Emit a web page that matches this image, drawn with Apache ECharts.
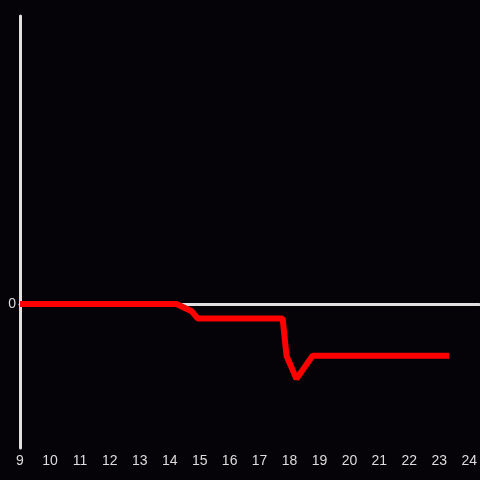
<!DOCTYPE html>
<html>
<head>
<meta charset="utf-8">
<script src="https://cdn.jsdelivr.net/npm/echarts@6/dist/echarts.min.js"></script>
<style>
  html, body { margin: 0; padding: 0; background: #050307; }
  #chart { width: 480px; height: 480px; }
</style>
</head>
<body>
<div id="chart"></div>
<script>
// hours of the day and the value
const hours = [9, 14.23, 14.73, 14.93, 17.77, 17.9, 18.23, 18.77, 23.33];
const values = [0, 0, -0.05, -0.1, -0.1, -0.36, -0.52, -0.36, -0.36];
const xTicks = [9, 10, 11, 12, 13, 14, 15, 16, 17, 18, 19, 20, 21, 22, 23, 24];

const axisColor = '#e0e0e0';
const labelColor = '#dddddd';

const chart = echarts.init(document.getElementById('chart'));

chart.setOption({
  backgroundColor: '#050307',
  animation: false,
  grid: { left: 20, right: 0, top: 16, bottom: 32 },
  xAxis: [{
    type: 'value',
    min: xTicks[0],
    max: 24.33,
    interval: 1,
    position: 'bottom',
    axisLine: { show: false, onZero: false },
    axisTick: { show: false },
    splitLine: { show: false },
    axisLabel: {
      color: labelColor,
      fontSize: 14,
      margin: 6,
      showMaxLabel: false,
      formatter: v => xTicks.includes(v) ? String(v) : ''
    }
  }, {
    type: 'value',
    min: xTicks[0],
    max: 24.33,
    axisLine: { show: true, onZero: true, lineStyle: { color: axisColor, width: 3 } },
    axisTick: { show: false },
    axisLabel: { show: false },
    splitLine: { show: false }
  }],
  yAxis: {
    type: 'value',
    min: -1,
    max: 2,
    interval: 1,
    axisLine: { show: true, onZero: false, lineStyle: { color: axisColor, width: 3 } },
    axisTick: { show: false },
    splitLine: { show: false },
    axisLabel: {
      color: labelColor,
      fontSize: 14,
      margin: 4,
      formatter: v => v === 0 ? '0' : ''
    }
  },
  series: [{
    type: 'line',
    data: hours.map((h, i) => [h, values[i]]),
    symbol: 'none',
    z: 5,
    lineStyle: { color: '#ff0000', width: 6 }
  }]
});
</script>
</body>
</html>
